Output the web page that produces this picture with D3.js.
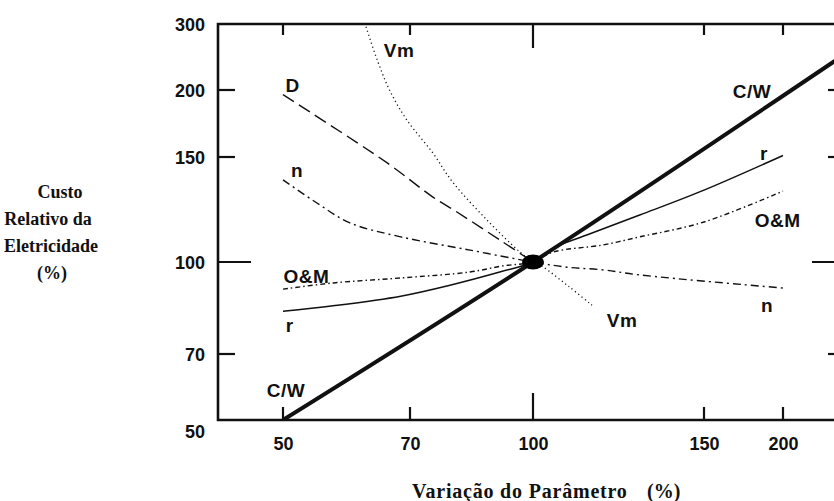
<!DOCTYPE html>
<html>
<head>
<meta charset="utf-8">
<script src="https://cdn.jsdelivr.net/npm/d3@7"></script>
<style>
  body { margin: 0; background: #fff; }
  svg { display: block; }
  .tick text { font-family: "Liberation Sans", Arial, sans-serif; font-weight: bold; font-size: 18px; fill: #111; }
  .lbl { font-family: "Liberation Sans", Arial, sans-serif; font-weight: bold; font-size: 19px; fill: #111; }
  .title { font-family: "Liberation Serif", "Times New Roman", serif; font-weight: bold; fill: #111; }
</style>
</head>
<body>
<div id="chart"></div>
<script>
var svgWidth = 834;
var svgHeight = 501;

// axis ticks (log scale, both axes)
var xTicks = [50, 70, 100, 150, 200];
var yTicks = [50, 70, 100, 150, 200, 300];

// series values (% of base case)
var cwX = [50, 100, 260];
var cwY = [50, 100, 260];

var rX = [50, 57.1, 68.3, 78.6, 90.8, 100, 104.9, 113.6, 128.8, 150, 200];
var rY = [82.6, 84.4, 87.6, 91.4, 96.2, 100, 105.5, 111, 119.9, 132, 151];

var omX = [50, 57.1, 68.3, 83.3, 91.6, 100, 104.9, 118, 128.8, 150, 200];
var omY = [90.0, 92.2, 94, 96.2, 98.5, 100, 103.9, 106.8, 110.2, 116.7, 131.5];

var nX = [50, 54.7, 59.7, 68.3, 83.3, 100, 108.4, 118, 128.8, 200];
var nY = [137.3, 125.6, 116.3, 110.2, 104.7, 100, 98, 97, 95.1, 90.4];

var dX = [50, 65.9, 74.8, 80.2, 90.8, 100];
var dY = [196, 146.6, 128.5, 121.3, 108.9, 100];

var vmX = [62.3, 64.2, 66.3, 69.4, 74.8, 79.2, 87.5, 96.3, 100, 102.4, 108.8, 115];
var vmY = [295, 240, 200, 175.9, 152.6, 136.2, 117.6, 103.9, 100, 98.1, 91, 84.6];

// curve labels, placed in data units
var labelText = ["Vm", "D", "n", "O&M", "r", "C/W", "C/W", "r", "O&M", "n", "Vm"];
var labelX = [68.0, 51.3, 51.9, 53.2, 50.9, 50.4, 178.7, 186.6, 196.2, 188.7, 123.5];
var labelY = [245, 198.3, 138.8, 92.2, 76.2, 56.2, 193.3, 148.3, 114.5, 82.4, 77.7];

// plot frame
var plotLeft = 218, plotRight = 845, plotTop = 24, plotBottom = 420;

var svg = d3.select("#chart").append("svg")
  .attr("width", svgWidth)
  .attr("height", svgHeight);

// the scanned axes are not evenly spaced, so the log scales are piecewise
var x = d3.scaleLog()
  .domain(xTicks)
  .range([283, 410, 533, 704, 783]);

var y = d3.scaleLog()
  .domain(yTicks)
  .range([plotBottom, 354, 262, 157, 90, plotTop]);

svg.append("clipPath").attr("id", "plotClip")
  .append("rect")
  .attr("x", plotLeft).attr("y", plotTop)
  .attr("width", plotRight - plotLeft).attr("height", plotBottom - plotTop);

// tick labels from d3 axes
var leftAxis = svg.append("g")
  .attr("transform", `translate(${plotLeft},0)`)
  .call(d3.axisLeft(y).tickValues(yTicks).tickFormat(d3.format("d")).tickSize(0).tickPadding(13));
leftAxis.select(".domain").remove();
leftAxis.selectAll(".tick text")
  .attr("dy", d => d === 50 ? "0.95em" : "0.35em");

var bottomAxis = svg.append("g")
  .attr("transform", `translate(0,${plotBottom})`)
  .call(d3.axisBottom(x).tickValues(xTicks).tickFormat(d3.format("d")).tickSize(0).tickPadding(17));
bottomAxis.select(".domain").remove();

// inner tick marks, the 100 % mark is longer
var innerY = [70, 100, 150, 200];
var tickG = svg.append("g").attr("stroke", "#111").attr("stroke-width", 2.2);

tickG.selectAll("line.tl").data(innerY).enter().append("line")
  .attr("class", "tl")
  .attr("x1", plotLeft).attr("x2", d => plotLeft + (d === 100 ? 33 : 17))
  .attr("y1", d => y(d)).attr("y2", d => y(d));

tickG.selectAll("line.tr").data(innerY).enter().append("line")
  .attr("class", "tr")
  .attr("x1", plotRight).attr("x2", d => plotRight - (d === 100 ? 33 : 17))
  .attr("y1", d => y(d)).attr("y2", d => y(d));

tickG.selectAll("line.tt").data(xTicks).enter().append("line")
  .attr("class", "tt")
  .attr("x1", d => x(d)).attr("x2", d => x(d))
  .attr("y1", plotTop).attr("y2", d => plotTop + (d === 100 ? 24 : 11));

tickG.selectAll("line.tb").data(xTicks).enter().append("line")
  .attr("class", "tb")
  .attr("x1", d => x(d)).attr("x2", d => x(d))
  .attr("y1", plotBottom).attr("y2", d => plotBottom - (d === 100 ? 27 : 13));

// frame lines
svg.append("path")
  .attr("d", `M${plotRight},${plotTop}H${plotLeft}V${plotBottom}H${plotRight}`)
  .attr("fill", "none")
  .attr("stroke", "#111")
  .attr("stroke-width", 2.6);

// curves
var plot = svg.append("g").attr("clip-path", "url(#plotClip)");

var line = d3.line()
  .x(d => x(d[0]))
  .y(d => y(d[1]))
  .curve(d3.curveCatmullRom.alpha(0.5));

function zip(a, b) { return a.map((v, i) => [v, b[i]]); }

var series = [
  { pts: zip(dX, dY), width: 1.4, dash: "13,6" },
  { pts: zip(vmX, vmY), width: 1.3, dash: "1.2,3" },
  { pts: zip(nX, nY), width: 1.4, dash: "8,4,2,4" },
  { pts: zip(omX, omY), width: 1.4, dash: "5,3,1.5,3" },
  { pts: zip(rX, rY), width: 1.5, dash: null },
  { pts: zip(cwX, cwY), width: 4, dash: null }
];

plot.selectAll("path.curve")
  .data(series)
  .enter()
  .append("path")
  .attr("class", "curve")
  .attr("d", d => line(d.pts))
  .attr("fill", "none")
  .attr("stroke", "#111")
  .attr("stroke-width", d => d.width)
  .attr("stroke-dasharray", d => d.dash);

// base case marker
svg.append("ellipse")
  .attr("cx", x(100))
  .attr("cy", y(100))
  .attr("rx", 11)
  .attr("ry", 7.5)
  .attr("fill", "#000");

// curve labels
svg.selectAll("text.lbl")
  .data(labelText)
  .enter()
  .append("text")
  .attr("class", "lbl")
  .attr("x", (d, i) => x(labelX[i]))
  .attr("y", (d, i) => y(labelY[i]))
  .attr("text-anchor", "middle")
  .attr("letter-spacing", "0.5px")
  .text(d => d);

// axis titles
var yTitle = ["Custo", "Relativo da", "Eletricidade", "(%)"];
var yTitleX = [60, 48, 51, 52];
svg.selectAll("text.ytitle")
  .data(yTitle)
  .enter()
  .append("text")
  .attr("class", "title ytitle")
  .attr("x", (d, i) => yTitleX[i])
  .attr("y", (d, i) => 198 + i * 27)
  .attr("text-anchor", "middle")
  .attr("font-size", "18px")
  .text(d => d);

svg.append("text")
  .attr("class", "title")
  .attr("x", 412)
  .attr("y", 498)
  .attr("font-size", "20px")
  .attr("letter-spacing", "0.8px")
  .text("Variação do Parâmetro");

svg.append("text")
  .attr("class", "title")
  .attr("x", 647)
  .attr("y", 498)
  .attr("font-size", "20px")
  .text("(%)");
</script>
</body>
</html>
